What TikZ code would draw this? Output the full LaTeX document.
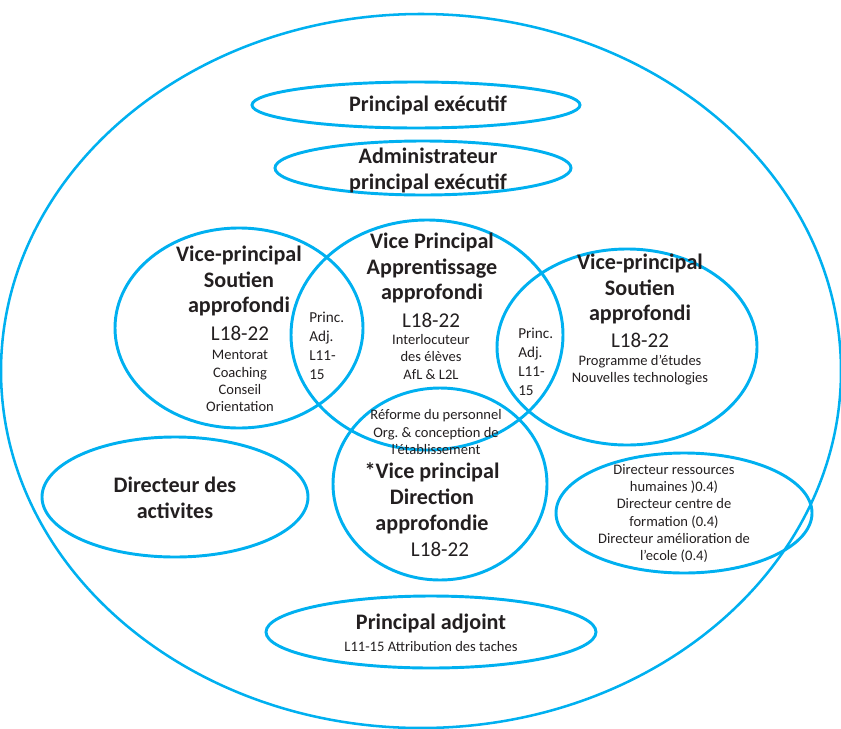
\documentclass[tikz,border=0pt]{standalone}
\usepackage{fontspec}
\setmainfont{Carlito}
\frenchspacing
\definecolor{ring}{RGB}{0,176,240}
\definecolor{ink}{RGB}{35,31,32}
\begin{document}
\begin{tikzpicture}[x=0.75pt,y=-0.75pt,
  loop/.style={draw=ring,line width=2.2pt},
  outerloop/.style={draw=ring,line width=1.9pt},
  title/.style={text=ink,align=center,inner sep=0pt,font=\fontsize{16.6}{19.4}\selectfont\bfseries},
  level/.style={text=ink,inner sep=0pt,font=\fontsize{15.8}{19}\selectfont},
  small/.style={text=ink,align=center,inner sep=0pt,font=\fontsize{10.9}{12.9}\selectfont},
  adj/.style={text=ink,align=left,inner sep=0pt,anchor=west,font=\fontsize{11.4}{14.2}\selectfont}]
\useasboundingbox (0,0) rectangle (841,728);
% frame of the whole organisation
\path[outerloop] (421,371) ellipse [x radius=420, y radius=357];
% top ellipses
\path[loop] (416,105) ellipse [x radius=164, y radius=23];
\path[loop] (423,168) ellipse [x radius=148, y radius=27];
% three overlapping domains and the lower one
\path[loop] (239,328) ellipse [x radius=124, y radius=100];
\path[loop] (427,335) ellipse [x radius=136, y radius=115];
\path[loop] (627,347) ellipse [x radius=130, y radius=98];
\path[loop] (440,484) ellipse [x radius=107, y radius=96];
% side and bottom ellipses
\path[loop] (175,497) ellipse [x radius=133, y radius=60];
\path[loop] (684,513) ellipse [x radius=128, y radius=60];
\path[loop] (431,632) ellipse [x radius=165, y radius=36];

\node[title] (pe) at (428,105) {Principal exécutif};
\node[title] (ape) at (428,170.5) {Administrateur\\principal exécutif};

\node[title] (vpl) at (239,281) {Vice-principal\\Soutien\\approfondi};
\node[level] (vpll) at (240,333) {L18-22};
\node[small] (vpls) at (240,381) {Mentorat\\Coaching\\Conseil\\Orientation};

\node[title] (vpa) at (432,268) {Vice Principal\\Apprentissage\\approfondi};
\node[level] (vpal) at (431,320) {L18-22};
\node[small] (vpas) at (431,357) {Interlocuteur\\des élèves\\AfL \& L2L};

\node[title] (vpr) at (640,289) {Vice-principal\\Soutien\\approfondi};
\node[level] (vprl) at (640,340) {L18-22};
\node[small] (vprs) at (640,370.5) {Programme d’études\\Nouvelles technologies};

\node[adj] (pa1) at (309,345.5) {Princ.\\Adj.\\L11-\\15};
\node[adj] (pa2) at (518,361.5) {Princ.\\Adj.\\L11-\\15};

\node[small] (ref) at (436,432) {Réforme du personnel\\Org. \& conception de\\l’établissement};
\node[title] (vpd) at (432,498) {*Vice principal\\Direction\\approfondie};
\node[level] (vpdl) at (440,549) {L18-22};

\node[title] (da) at (175,498) {Directeur des\\activites};
\node[small] (dir) at (674,513.5) {Directeur ressources\\humaines )0.4)\\Directeur centre de\\formation (0.4)\\Directeur amélioration de\\l’ecole (0.4)};

\node[title] (padj) at (431,624) {Principal adjoint};
\node[small] (padjs) at (431,646) {L11-15 Attribution des taches};
\end{tikzpicture}
\end{document}
